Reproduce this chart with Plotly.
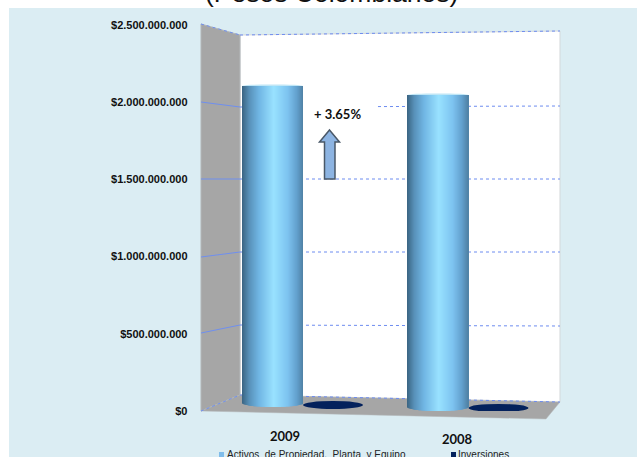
import plotly.graph_objects as go

# Chart data
years = ["2009", "2008"]
activos = [2.10e9, 2.026e9]
inversiones = [39e6, 20e6]
tick_values = [0, 5e8, 1e9, 1.5e9, 2e9, 2.5e9]
tick_labels = ["$0", "$500.000.000", "$1.000.000.000", "$1.500.000.000", "$2.000.000.000", "$2.500.000.000"]
series_names = ["Activos\u00a0 de Propiedad,\u00a0 Planta\u00a0 y Equipo", "Inversiones"]
change_label = "+ 3.65%"
title_text = "(Pesos Colombianos)"

W, H = 637, 457
def fx(x): return x / W
def fy(y): return 1 - y / H
def poly(points):
    pts = [f"{fx(x):.5f},{fy(y):.5f}" for x, y in points]
    return "M" + " L".join(pts) + " Z"

# Horizontal layout of the category axis: one category spans 165.5 px
CAT_PX, CAT0_PX = 165.5, 303.0
def cat(x): return (x - CAT0_PX) / CAT_PX
BAR_W = 61 / CAT_PX
DISC_W = 60 / CAT_PX

# Vertical layout: the visible axis, plus one scale per bar for the perspective
AX_TOP, AX_BOT = 25, 411
def axis_range(zero_px, px_per_unit):
    return [(zero_px - AX_BOT) / px_per_unit, (zero_px - AX_TOP) / px_per_unit]
scale_2009 = (407 - 86) / activos[0]
scale_2008 = (411 - 95) / activos[1]

# Blue shading across the cylinder
STOPS = [(0.0, (58, 100, 130)), (0.12, (88, 145, 185)), (0.28, (112, 182, 228)),
         (0.52, (153, 226, 255)), (0.75, (125, 195, 240)), (0.9, (98, 160, 205)),
         (1.0, (80, 130, 165))]
def shade(t):
    for (a, ca), (b, cb) in zip(STOPS, STOPS[1:]):
        if t <= b:
            k = (t - a) / (b - a)
            return "rgb(%d,%d,%d)" % tuple(round(p + (q - p) * k) for p, q in zip(ca, cb))
    return "rgb(80,130,165)"

fig = go.Figure()
STRIPS = 61
for c, (year, value, axis, scale) in enumerate(zip(years, activos, ["y2", "y3"], [scale_2009, scale_2008])):
    for i in range(STRIPS):
        t = (i + 0.5) / STRIPS
        sag_px = 4 * (1 - (1 - (2 * t - 1) ** 2) ** 0.5)
        lift = sag_px / scale
        overlap = 1.6 if i < STRIPS - 1 else 1.0
        fig.add_trace(go.Bar(
            x=[year], y=[value - lift], base=[lift], yaxis=axis,
            offset=-BAR_W + i * BAR_W / STRIPS, width=BAR_W / STRIPS * overlap,
            marker=dict(color=shade(t), line=dict(width=0)),
            showlegend=False, hoverinfo="skip",
        ))
fig.add_trace(go.Scatter(x=years, y=[None, None], yaxis="y", showlegend=False, hoverinfo="skip"))

shapes = []
def add_poly(points, fill, line=None, lw=0, layer="below"):
    shapes.append(dict(type="path", xref="paper", yref="paper", path=poly(points),
                       fillcolor=fill, line=dict(color=line or fill, width=lw), layer=layer))

def add_line(x0, y0, x1, y1, color="#6D8CF0", dash="dot", width=1):
    shapes.append(dict(type="line", xref="paper", yref="paper", x0=fx(x0), y0=fy(y0), x1=fx(x1), y1=fy(y1),
                       line=dict(color=color, width=width, dash=dash), layer="below"))

# Panel, walls and floor
add_poly([(9, 8), (W + 2, 8), (W + 2, H + 2), (9, H + 2)], "#DBEDF3")
add_poly([(240, 35), (560, 31), (560, 402), (240, 395)], "#FFFFFF", "#D4D8DA", 1)
add_poly([(201, 24), (240, 35), (240, 395), (201, 411)], "#A6A6A6", "#B4B8BA", 1)
add_poly([(201, 411), (240, 395), (560, 402), (546, 419)], "#A6A6A6", "#B4B8BA", 0.5)

# Gridlines run along the side wall and across the back wall
side_px = [411, 333, 257, 179, 102, 24]
back_left_px = [395, 325, 252, 179, 107, 35]
back_right_px = [402, 326, 252, 179, 106, 31]
for a, b, r in zip(side_px, back_left_px, back_right_px):
    add_line(201, a, 240, b, color="#6F8FEF", dash="solid" if 50 < a < 400 else "dot")
    add_line(240, b, 560, r)
add_poly([(304, 98), (375, 98), (375, 176), (304, 176)], "#FFFFFF")

# Flat caps on the cylinders and the discs of the small series
for c, (value, axis) in enumerate(zip(activos, ["y2", "y3"])):
    shapes.append(dict(type="circle", xref="x", yref=axis, ysizemode="pixel", yanchor=value,
                       x0=c - BAR_W, x1=c, y0=-1.6, y1=1.6, fillcolor="#BFE6F6",
                       line=dict(width=0), layer="below"))
for c, value in enumerate(inversiones):
    shapes.append(dict(type="circle", xref="x", yref="y", ysizemode="pixel", yanchor=value,
                       x0=c, x1=c + DISC_W, y0=-4, y1=4, fillcolor="#03215C",
                       line=dict(width=0), layer="below"))

# Arrow next to the change label
add_poly([(329.5, 130), (339.5, 142), (335, 142), (335, 179), (324.5, 179), (324.5, 142), (319.5, 142)],
         "#8DB4E2", "#4A5868", 1.5, layer="above")

# Legend swatches
add_poly([(219, 452), (224, 452), (224, 458), (219, 458)], "#7FBDEB", layer="above")
add_poly([(451, 452), (456, 452), (456, 458), (451, 458)], "#03215C", layer="above")

def note(text, x, y, size, family="Liberation Sans", color="#111111", xanchor="center", yanchor="middle", bold=False):
    label = f"<b>{text}</b>" if bold else text
    return dict(text=label, x=fx(x), y=fy(y), xref="paper", yref="paper", showarrow=False,
                xanchor=xanchor, yanchor=yanchor, borderpad=0,
                font=dict(size=size, family=family, color=color))

annotations = [
    note(title_text, 331, 9, 26.5, yanchor="bottom"),
    note(change_label, 337.5, 114, 13, family="Lato", bold=True),
    note(years[0], 285, 436, 13, family="Lato", bold=True),
    note(years[1], 457, 439, 13, family="Lato", bold=True),
    note(series_names[0], 226, 454, 10, xanchor="left", color="#222222"),
    note(series_names[1], 457, 454, 10, xanchor="left", color="#222222"),
]

hidden = dict(visible=False, overlaying="y", domain=[fy(AX_BOT), fy(AX_TOP)], fixedrange=True)
fig.update_layout(
    width=W, height=H, autosize=False,
    margin=dict(l=0, r=0, t=0, b=0, autoexpand=False),
    paper_bgcolor="#FFFFFF", plot_bgcolor="rgba(0,0,0,0)",
    barmode="overlay", showlegend=False,
    shapes=shapes, annotations=annotations,
    xaxis=dict(type="category", categoryorder="array", categoryarray=years, visible=False,
               range=[cat(0), cat(W)], domain=[0, 1]),
    yaxis=dict(range=[0, 2.5e9], domain=[fy(AX_BOT), fy(AX_TOP)], anchor="free", position=fx(187.5),
               tickmode="array", tickvals=tick_values, ticktext=tick_labels,
               ticks="", showgrid=False, zeroline=False, showline=False,
               tickfont=dict(family="Liberation Sans", size=11, color="#111111", weight="bold")),
    yaxis2=dict(range=axis_range(407, scale_2009), **hidden),
    yaxis3=dict(range=axis_range(411, scale_2008), **hidden),
)
fig.write_html("out.html")
